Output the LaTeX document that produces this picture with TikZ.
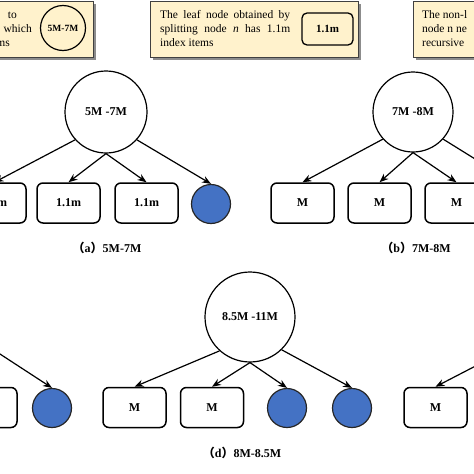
\documentclass[tikz,border=0pt]{standalone}
\usepackage{fontspec}
\setmainfont{Liberation Serif}
\newfontfamily\cjk{Noto Sans CJK SC}
\usetikzlibrary{arrows.meta,shadows}
\definecolor{legendfill}{HTML}{FFF2CC}
\definecolor{leafblue}{HTML}{4472C4}
\begin{document}
\begin{tikzpicture}[x=1pt,y=-1pt,
  legendbox/.style={rectangle, draw=black!75, fill=legendfill, line width=0.8pt, inner sep=0pt,
    drop shadow={shadow xshift=2.5pt, shadow yshift=-2.5pt, fill=black!45, opacity=1}},
  legtext/.style={font=\fontsize{11.5}{13}\selectfont, inner sep=0pt},
  rootnode/.style={circle, draw, line width=1.2pt, fill=white, inner sep=0pt, font=\bfseries\fontsize{12}{14}\selectfont},
  leafbox/.style={rectangle, rounded corners=6pt, draw, line width=1.5pt, fill=white, minimum width=63pt, minimum height=40pt, inner sep=0pt, font=\bfseries\fontsize{12}{14}\selectfont},
  bluenode/.style={circle, draw=black!85, fill=leafblue, line width=1.2pt, minimum size=39pt, inner sep=0pt},
  arr/.style={-{Stealth[length=9pt,width=7pt]}, line width=1.2pt},
  captext/.style={font=\bfseries\fontsize{12}{14}\selectfont, inner sep=0pt}
]
\useasboundingbox (0,0) rectangle (474,474);
\fill[white] (0,0) rectangle (474,474);
\clip (0,0) rectangle (474,474);

% legend boxes
\node[legendbox, anchor=north west, minimum width=153pt, minimum height=56pt] (lg1) at (-60,1) {};
\node[legendbox, anchor=north west, minimum width=208pt, minimum height=56pt] (lg2) at (150,1) {};
\node[legendbox, anchor=north west, minimum width=100pt, minimum height=56pt] (lg3) at (413,1) {};

\node[legtext, anchor=base east] (l1a) at (17,18) {to};
\node[legtext, anchor=base east] (l1b) at (32,32) {which};
\node[legtext, anchor=base east] (l1c) at (10,46) {ms};
\node[circle, draw, line width=1.2pt, minimum size=45pt, inner sep=0pt, font=\bfseries\fontsize{9.5}{11}\selectfont] (lc) at (63,28) {5M-7M};

\node[legtext, anchor=base west] (l2a) at (160,18) {\makebox[130pt][s]{The leaf node obtained by}};
\node[legtext, anchor=base west] (l2b) at (160,32) {\makebox[130pt][s]{splitting node \textit{n} has 1.1m}};
\node[legtext, anchor=base west] (l2c) at (160,46) {index items};
\node[rectangle, rounded corners=5pt, draw, line width=1.3pt, minimum width=51pt, minimum height=32pt, inner sep=0pt, font=\bfseries\fontsize{11}{13}\selectfont] (lb) at (327.5,29) {1.1m};

\node[legtext, anchor=base west] (l3a) at (422,18) {The non-l};
\node[legtext, anchor=base west] (l3b) at (422,32) {node n ne};
\node[legtext, anchor=base west] (l3c) at (422,46) {recursive};

% tree (a)
\node[rootnode, minimum size=82pt] (ra) at (106,112) {5M -7M};
\node[leafbox] (a1) at (-5.5,203) {1.1m};
\node[leafbox] (a2) at (68.5,203) {1.1m};
\node[leafbox] (a3) at (146.5,203) {1.1m};
\node[bluenode] (a4) at (211,204) {};
\draw[arr] (ra.222) -- (a1.north);
\draw[arr] (ra.south) -- (a2.north);
\draw[arr] (ra.south) -- (a3.north);
\draw[arr] (ra.318) -- (a4.north);
\node[captext] (capa) at (107,248) {{\cjk （}a{\cjk ）}5M-7M};

% tree (b)
\node[rootnode, minimum size=80pt] (rb) at (413,112) {7M -8M};
\node[leafbox] (b1) at (302.5,203) {M};
\node[leafbox] (b2) at (379.5,203) {M};
\node[leafbox] (b3) at (456.5,203) {M};
\coordinate (b4) at (517,185);
\draw[arr] (rb.222) -- (b1.north);
\draw[arr] (rb.south) -- (b2.north);
\draw[arr] (rb.south) -- (b3.north);
\draw[arr] (rb.318) -- (b4);
\node[captext] (capb) at (416,248) {{\cjk （}b{\cjk ）}7M-8M};

% tree (c), partial
\node[leafbox] (c1) at (-14.5,407.5) {};
\node[bluenode] (c2) at (52,408) {};
\coordinate (cr) at (-20,341);
\draw[arr] (cr) -- (c2.north);

% tree (d)
\node[rootnode, minimum size=90pt] (rd) at (250,317) {8.5M -11M};
\node[leafbox] (d1) at (134.5,407.5) {M};
\node[leafbox] (d2) at (212,407.5) {M};
\node[bluenode] (d3) at (287,408) {};
\node[bluenode] (d4) at (352,408) {};
\draw[arr] (rd.228) -- (d1.north);
\draw[arr] (rd.south) -- (d2.north);
\draw[arr] (rd.south) -- (d3.north);
\draw[arr] (rd.314) -- (d4.north);
\node[captext] (capd) at (242,453) {{\cjk （}d{\cjk ）}8M-8.5M};

% tree (e), partial
\node[leafbox] (e1) at (435.5,407.5) {M};
\coordinate (er) at (491,358);
\draw[arr] (er) -- (e1.north);
\end{tikzpicture}
\end{document}
